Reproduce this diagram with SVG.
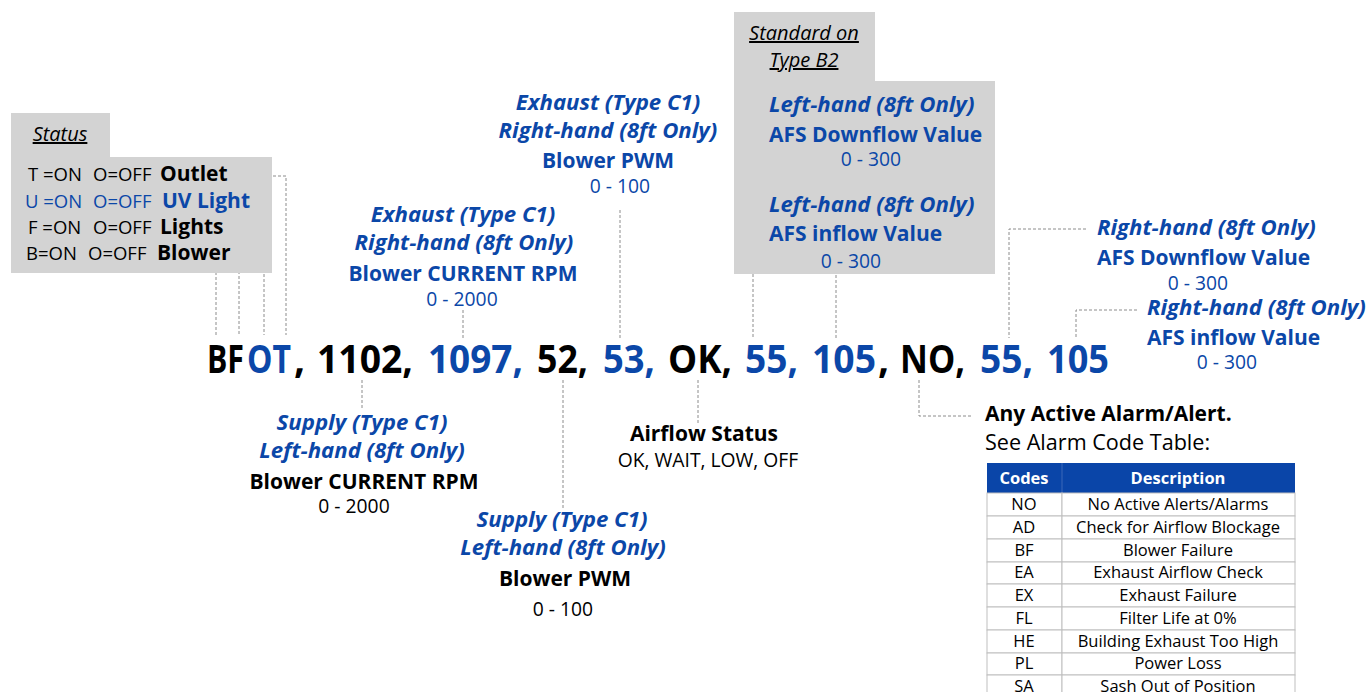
<svg xmlns="http://www.w3.org/2000/svg" width="1371" height="692" viewBox="0 0 1371 692">
<style>
text { font-family: "Open Sans", "Noto Sans", "Liberation Sans", sans-serif; fill: #000; }
.blue { fill: #0b47a8; }
.i { font-style: italic; }
.lbl { font-size: 21px; font-weight: bold; }
.lbl.i { font-size: 22.2px; }
.rng { font-size: 19.3px; }
.st { font-size: 18.5px; }
.stb { font-size: 21px; font-weight: bold; }
.main { font-size: 39px; font-weight: bold; }
.dash { fill: none; stroke: #8c8c8c; stroke-width: 1; stroke-dasharray: 3 2; }
.gray { fill: #d3d3d3; }
.cell { fill: #fff; stroke: #bfbfbf; stroke-width: 1; }
.tc { font-size: 16.5px; text-anchor: middle; }
.th { font-size: 16.5px; font-weight: bold; fill: #fff; text-anchor: middle; }
.m { text-anchor: middle; }
.hd { font-size: 20px; font-style: italic; text-anchor: middle; text-decoration: underline; }
</style>

<g id="connectors">
  <polyline class="dash" points="228,176 286,176 286,335"/>
  <polyline class="dash" points="253,200 264,200 264,335"/>
  <polyline class="dash" points="222,228 239,228 239,335"/>
  <polyline class="dash" points="216,267 216,335"/>
  <line class="dash" x1="362" y1="380" x2="362" y2="408"/>
  <line class="dash" x1="463" y1="310" x2="463" y2="338"/>
  <line class="dash" x1="563" y1="380" x2="563" y2="508"/>
  <line class="dash" x1="620" y1="210" x2="620" y2="338"/>
  <line class="dash" x1="698" y1="380" x2="698" y2="423"/>
  <polyline class="dash" points="768,104 753,104 753,338"/>
  <line class="dash" x1="836" y1="275" x2="836" y2="338"/>
  <polyline class="dash" points="919,380 919,416 972,416"/>
  <polyline class="dash" points="1086,229 1009,229 1009,338"/>
  <polyline class="dash" points="1137,310 1076,310 1076,338"/>
</g>

<g id="status-box">
  <path class="gray" d="M11,113 H110 V157 H272 V273 H11 Z"/>
  <text x="60" y="141" class="hd">Status</text>
  <text y="181" class="st"><tspan x="28">T =ON</tspan><tspan x="93">O=OFF</tspan><tspan x="160" class="stb">Outlet</tspan></text>
  <text y="208" class="st blue"><tspan x="25">U =ON</tspan><tspan x="93">O=OFF</tspan><tspan x="162" class="stb">UV Light</tspan></text>
  <text y="234" class="st"><tspan x="28">F =ON</tspan><tspan x="93">O=OFF</tspan><tspan x="160" class="stb">Lights</tspan></text>
  <text y="260" class="st"><tspan x="26">B=ON</tspan><tspan x="88">O=OFF</tspan><tspan x="157" class="stb">Blower</tspan></text>
</g>

<g id="main-string">
  <text y="373" class="main"><tspan x="207" textLength="37" lengthAdjust="spacingAndGlyphs">BF</tspan><tspan x="247" class="blue" textLength="44" lengthAdjust="spacingAndGlyphs">OT</tspan><tspan x="294">,</tspan><tspan x="317" textLength="96" lengthAdjust="spacingAndGlyphs">1102,</tspan><tspan x="428" class="blue" textLength="95" lengthAdjust="spacingAndGlyphs">1097,</tspan><tspan x="537" textLength="51" lengthAdjust="spacingAndGlyphs">52,</tspan><tspan x="603" class="blue" textLength="52" lengthAdjust="spacingAndGlyphs">53,</tspan><tspan x="668" textLength="64" lengthAdjust="spacingAndGlyphs">OK,</tspan><tspan x="745" class="blue" textLength="53" lengthAdjust="spacingAndGlyphs">55,</tspan><tspan x="812" class="blue" textLength="64" lengthAdjust="spacingAndGlyphs">105</tspan><tspan x="878">,</tspan><tspan x="900" textLength="65" lengthAdjust="spacingAndGlyphs">NO,</tspan><tspan x="980" class="blue" textLength="53" lengthAdjust="spacingAndGlyphs">55,</tspan><tspan x="1047" class="blue" textLength="62" lengthAdjust="spacingAndGlyphs">105</tspan></text>
</g>

<g id="exhaust-pwm">
  <text x="608" y="110" class="lbl i blue m">Exhaust (Type C1)</text>
  <text x="608" y="138" class="lbl i blue m">Right-hand (8ft Only)</text>
  <text x="608" y="168" class="lbl blue m">Blower PWM</text>
  <text x="620" y="193" class="rng blue m">0 - 100</text>
</g>

<g id="exhaust-rpm">
  <text x="463" y="222" class="lbl i blue m">Exhaust (Type C1)</text>
  <text x="464" y="250" class="lbl i blue m">Right-hand (8ft Only)</text>
  <text x="463" y="281" class="lbl blue m">Blower CURRENT RPM</text>
  <text x="462" y="306" class="rng blue m">0 - 2000</text>
</g>

<g id="supply-rpm">
  <text x="362" y="430" class="lbl i blue m">Supply (Type C1)</text>
  <text x="362" y="458" class="lbl i blue m">Left-hand (8ft Only)</text>
  <text x="364" y="489" class="lbl m">Blower CURRENT RPM</text>
  <text x="354" y="513" class="rng m">0 - 2000</text>
</g>

<g id="supply-pwm">
  <text x="562" y="527" class="lbl i blue m">Supply (Type C1)</text>
  <text x="563" y="555" class="lbl i blue m">Left-hand (8ft Only)</text>
  <text x="565" y="586" class="lbl m">Blower PWM</text>
  <text x="563" y="616" class="rng m">0 - 100</text>
</g>

<g id="airflow-status">
  <text x="704" y="441" class="lbl m">Airflow Status</text>
  <text x="708" y="467" class="rng m">OK, WAIT, LOW, OFF</text>
</g>

<g id="b2-box">
  <path class="gray" d="M734,12 H875 V81 H995 V274 H734 Z"/>
  <text x="804" y="40" class="hd">Standard on</text>
  <text x="804" y="67" class="hd">Type B2</text>
  <text x="769" y="112" class="lbl i blue">Left-hand (8ft Only)</text>
  <text x="769" y="142" class="lbl blue">AFS Downflow Value</text>
  <text x="871" y="166" class="rng blue m">0 - 300</text>
  <text x="769" y="212" class="lbl i blue">Left-hand (8ft Only)</text>
  <text x="769" y="241" class="lbl blue">AFS inflow Value</text>
  <text x="851" y="268" class="rng blue m">0 - 300</text>
</g>

<g id="right-downflow">
  <text x="1097" y="235" class="lbl i blue">Right-hand (8ft Only)</text>
  <text x="1097" y="265" class="lbl blue">AFS Downflow Value</text>
  <text x="1198" y="290" class="rng blue m">0 - 300</text>
</g>

<g id="right-inflow">
  <text x="1147" y="315" class="lbl i blue">Right-hand (8ft Only)</text>
  <text x="1147" y="345" class="lbl blue">AFS inflow Value</text>
  <text x="1227" y="369" class="rng blue m">0 - 300</text>
</g>

<g id="alarm">
  <text x="985" y="421" class="lbl">Any Active Alarm/Alert.</text>
  <text x="985" y="450" font-size="21.6">See Alarm Code Table:</text>
</g>

<g id="alarm-table">
  <rect x="987" y="463" width="308" height="30" fill="#0a45a8"/>
  <line x1="1062" y1="463" x2="1062" y2="493" stroke="#3a68b8" stroke-width="1"/>
  <text x="1024" y="484" class="th">Codes</text>
  <text x="1178" y="484" class="th">Description</text>
  <rect class="cell" x="987" y="493" width="75" height="23"/><rect class="cell" x="1062" y="493" width="233" height="23"/>
  <rect class="cell" x="987" y="516" width="75" height="23"/><rect class="cell" x="1062" y="516" width="233" height="23"/>
  <rect class="cell" x="987" y="539" width="75" height="23"/><rect class="cell" x="1062" y="539" width="233" height="23"/>
  <rect class="cell" x="987" y="562" width="75" height="22"/><rect class="cell" x="1062" y="562" width="233" height="22"/>
  <rect class="cell" x="987" y="584" width="75" height="23"/><rect class="cell" x="1062" y="584" width="233" height="23"/>
  <rect class="cell" x="987" y="607" width="75" height="23"/><rect class="cell" x="1062" y="607" width="233" height="23"/>
  <rect class="cell" x="987" y="630" width="75" height="23"/><rect class="cell" x="1062" y="630" width="233" height="23"/>
  <rect class="cell" x="987" y="653" width="75" height="22"/><rect class="cell" x="1062" y="653" width="233" height="22"/>
  <rect class="cell" x="987" y="675" width="75" height="23"/><rect class="cell" x="1062" y="675" width="233" height="23"/>
  <text x="1024" y="510" class="tc">NO</text><text x="1178" y="510" class="tc">No Active Alerts/Alarms</text>
  <text x="1024" y="533" class="tc">AD</text><text x="1178" y="533" class="tc">Check for Airflow Blockage</text>
  <text x="1024" y="556" class="tc">BF</text><text x="1178" y="556" class="tc">Blower Failure</text>
  <text x="1024" y="578" class="tc">EA</text><text x="1178" y="578" class="tc">Exhaust Airflow Check</text>
  <text x="1024" y="601" class="tc">EX</text><text x="1178" y="601" class="tc">Exhaust Failure</text>
  <text x="1024" y="624" class="tc">FL</text><text x="1178" y="624" class="tc">Filter Life at 0%</text>
  <text x="1024" y="647" class="tc">HE</text><text x="1178" y="647" class="tc">Building Exhaust Too High</text>
  <text x="1024" y="669" class="tc">PL</text><text x="1178" y="669" class="tc">Power Loss</text>
  <text x="1024" y="692" class="tc">SA</text><text x="1178" y="692" class="tc">Sash Out of Position</text>
</g>
</svg>
